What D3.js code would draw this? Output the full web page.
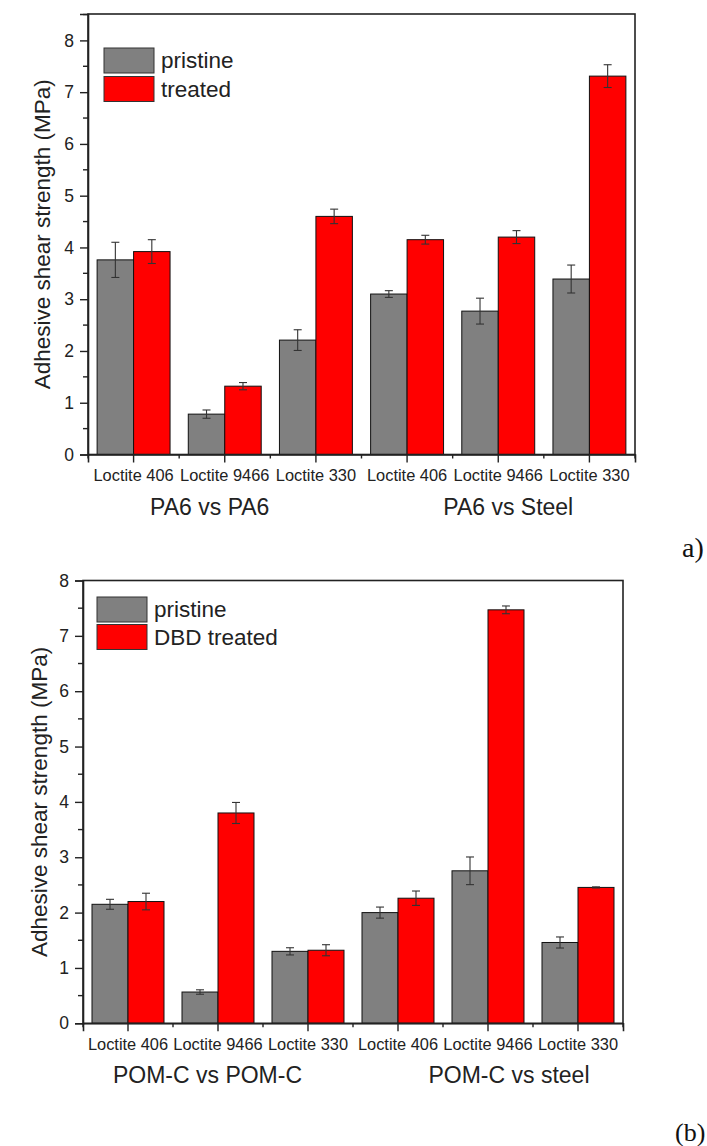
<!DOCTYPE html>
<html>
<head>
<meta charset="utf-8">
<script src="https://cdn.jsdelivr.net/npm/d3@7"></script>
<style>
  html, body { margin: 0; padding: 0; background: #fff; }
  svg { display: block; font-family: "Liberation Sans", Arial, sans-serif; }
</style>
</head>
<body>
<svg id="chart" width="707" height="1146"></svg>
<script>
// ---------- data ----------
const categories = ["Loctite 406", "Loctite 9466", "Loctite 330", "Loctite 406", "Loctite 9466", "Loctite 330"];
const yTicks = [0, 1, 2, 3, 4, 5, 6, 7, 8];

const groupLabelsA = ["PA6 vs PA6", "PA6 vs Steel"];
const legendA = ["pristine", "treated"];
const pristineA = [3.76, 0.78, 2.21, 3.10, 2.77, 3.39];
const pristineErrA = [0.34, 0.08, 0.20, 0.065, 0.25, 0.27];
const treatedA = [3.92, 1.32, 4.60, 4.15, 4.20, 7.31];
const treatedErrA = [0.23, 0.07, 0.14, 0.085, 0.125, 0.22];

const groupLabelsB = ["POM-C vs POM-C", "POM-C vs steel"];
const legendB = ["pristine", "DBD treated"];
const pristineB = [2.15, 0.565, 1.30, 2.00, 2.755, 1.46];
const pristineErrB = [0.09, 0.04, 0.065, 0.10, 0.25, 0.10];
const treatedB = [2.20, 3.80, 1.32, 2.26, 7.47, 2.455];
const treatedErrB = [0.15, 0.19, 0.10, 0.13, 0.07, 0.01];

const colors = ["#808080", "#ff0000"];

const svg = d3.select("#chart");

function panel(cfg) {
  const g = svg.append("g");
  const x = d3.scaleBand().domain(d3.range(categories.length)).range([cfg.left, cfg.right]).paddingInner(0).paddingOuter(0);
  const y = d3.scaleLinear().domain([0, cfg.yMax]).range([cfg.bottom, cfg.top]);
  const bw = x.bandwidth();

  const series = [
    { vals: cfg.pristine, errs: cfg.pristineErr, off: 0.1, color: colors[0] },
    { vals: cfg.treated, errs: cfg.treatedErr, off: 0.5, color: colors[1] }
  ];

  series.forEach(s => {
    g.selectAll(null).data(s.vals).enter().append("rect")
      .attr("x", (d, i) => x(i) + bw * s.off)
      .attr("y", d => y(d))
      .attr("width", bw * 0.4)
      .attr("height", d => y(0) - y(d))
      .attr("fill", s.color)
      .attr("stroke", "#111")
      .attr("stroke-width", 1);
  });
  series.forEach(s => {
    const eg = g.selectAll(null).data(s.vals).enter().append("g")
      .attr("stroke", "#333").attr("stroke-width", 1.1);
    const cx = i => x(i) + bw * (s.off + 0.2);
    eg.append("line").attr("x1", (d, i) => cx(i)).attr("x2", (d, i) => cx(i))
      .attr("y1", (d, i) => y(d + s.errs[i])).attr("y2", (d, i) => y(d - s.errs[i]));
    eg.append("line").attr("x1", (d, i) => cx(i) - 4).attr("x2", (d, i) => cx(i) + 4)
      .attr("y1", (d, i) => y(d + s.errs[i])).attr("y2", (d, i) => y(d + s.errs[i]));
    eg.append("line").attr("x1", (d, i) => cx(i) - 4).attr("x2", (d, i) => cx(i) + 4)
      .attr("y1", (d, i) => y(d - s.errs[i])).attr("y2", (d, i) => y(d - s.errs[i]));
  });

  // frame
  g.append("rect").attr("x", cfg.left).attr("y", cfg.top)
    .attr("width", cfg.right - cfg.left).attr("height", cfg.bottom - cfg.top)
    .attr("fill", "none").attr("stroke", "#222").attr("stroke-width", 1.6);

  // y axis
  const yAxis = d3.axisLeft(y).tickValues(yTicks).tickSize(8).tickPadding(6).tickFormat(d3.format("d"));
  const ya = g.append("g").attr("transform", `translate(${cfg.left},0)`).call(yAxis);
  ya.select(".domain").attr("stroke", "#222").attr("stroke-width", 1.6);
  ya.selectAll(".tick line").attr("stroke", "#222").attr("stroke-width", 1.4);
  ya.selectAll(".tick text").attr("font-size", 17.5).attr("fill", "#222")
    .attr("font-family", "Liberation Sans, Arial, sans-serif");
  const minorY = d3.range(0.5, cfg.yMax, 1);
  g.selectAll(null).data(minorY).enter().append("line")
    .attr("x1", cfg.left - 5).attr("x2", cfg.left)
    .attr("y1", d => y(d)).attr("y2", d => y(d))
    .attr("stroke", "#222").attr("stroke-width", 1.4);

  // x axis (major ticks at category centres)
  const xAxis = d3.axisBottom(x).tickSize(8).tickPadding(7).tickFormat(i => categories[i]);
  const xa = g.append("g").attr("transform", `translate(0,${cfg.bottom})`).call(xAxis);
  xa.select(".domain").attr("stroke", "#222").attr("stroke-width", 1.6);
  xa.selectAll(".tick line").attr("stroke", "#222").attr("stroke-width", 1.4);
  xa.selectAll(".tick text").attr("font-size", 16.4).attr("fill", "#222")
    .attr("font-family", "Liberation Sans, Arial, sans-serif");
  // minor ticks at category boundaries
  const bounds = d3.range(categories.length + 1).map(i => cfg.left + i * bw);
  g.selectAll(null).data(bounds).enter().append("line")
    .attr("x1", d => d).attr("x2", d => d)
    .attr("y1", cfg.bottom).attr("y2", cfg.bottom + 4)
    .attr("stroke", "#222").attr("stroke-width", 1.4);

  // group labels
  cfg.groups.forEach((lab, k) => {
    const cx = (x(k * 3 + 1) + bw / 2) + cfg.groupOff[k];
    g.append("text").attr("x", cx).attr("y", cfg.bottom + cfg.groupDy)
      .attr("text-anchor", "middle").attr("font-size", 23).attr("fill", "#222").text(lab);
  });

  // y title
  g.append("text")
    .attr("transform", `translate(${cfg.titleX},${(cfg.top + cfg.bottom) / 2}) rotate(-90)`)
    .attr("text-anchor", "middle").attr("font-size", 22.5).attr("fill", "#222")
    .text("Adhesive shear strength (MPa)");

  // legend
  cfg.legend.forEach((lab, k) => {
    const ly = cfg.legY + k * cfg.legStep;
    g.append("rect").attr("x", cfg.legX).attr("y", ly).attr("width", 50).attr("height", 25)
      .attr("fill", colors[k]).attr("stroke", "#333").attr("stroke-width", 1);
    g.append("text").attr("x", cfg.legX + 57).attr("y", ly + 20)
      .attr("font-size", 22.5).attr("fill", "#222").text(lab);
  });
}

panel({
  left: 88, right: 635, top: 14, bottom: 454.5, yMax: 8.51,
  pristine: pristineA, pristineErr: pristineErrA, treated: treatedA, treatedErr: treatedErrA,
  groups: groupLabelsA, groupOff: [-15, 10], groupDy: 60.5,
  titleX: 50, legend: legendA, legX: 104, legY: 48, legStep: 28.5
});

panel({
  left: 83, right: 623, top: 580.5, bottom: 1023.3, yMax: 8,
  pristine: pristineB, pristineErr: pristineErrB, treated: treatedB, treatedErr: treatedErrB,
  groups: groupLabelsB, groupOff: [-10.5, 21], groupDy: 59.4,
  titleX: 47, legend: legendB, legX: 97, legY: 597, legStep: 27.5
});

// panel tags
svg.append("text").attr("x", 682).attr("y", 557).attr("font-size", 28)
  .attr("font-family", "Liberation Serif, 'DejaVu Serif', serif").attr("fill", "#111").text("a)");
svg.append("text").attr("x", 675).attr("y", 1141).attr("font-size", 26)
  .attr("font-family", "Liberation Serif, 'DejaVu Serif', serif").attr("fill", "#111").text("(b)");
</script>
</body>
</html>
